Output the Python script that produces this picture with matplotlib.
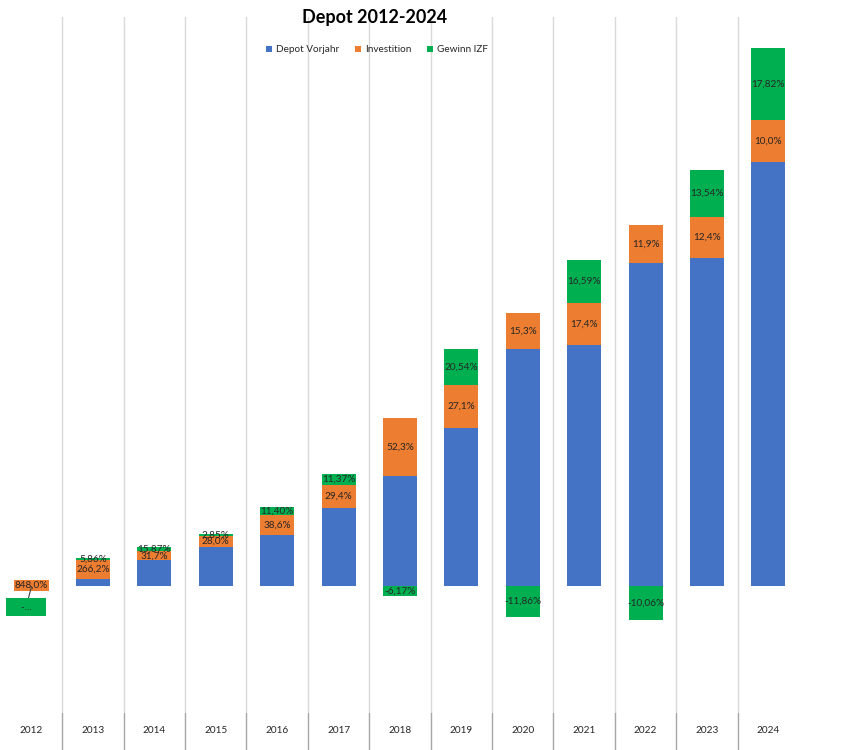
import numpy as np
import matplotlib.pyplot as plt

plt.rcParams["font.family"] = ["Lato", "DejaVu Sans"]

years = ["2012", "2013", "2014", "2015", "2016", "2017", "2018",
         "2019", "2020", "2021", "2022", "2023", "2024"]
depot_vorjahr = np.array([0, 1750, 6500, 9750, 12750, 19500, 27500,
                          39500, 59250, 60250, 80750, 82000, 106000])
investition = np.array([250, 4750, 2125, 2750, 4875, 5750, 14500,
                        10750, 9000, 10500, 9625, 10250, 10500])
gewinn = np.array([-125, 375, 1125, 375, 2000, 2750, -2500,
                   9000, -7750, 10750, -8500, 11750, 18000])

inv_labels = ["848,0%", "266,2%", "31,7%", "28,0%", "38,6%", "29,4%", "52,3%",
              "27,1%", "15,3%", "17,4%", "11,9%", "12,4%", "10,0%"]
gew_labels = ["-...", "5,86%", "15,87%", "2,85%", "11,40%", "11,37%", "-6,17%",
              "20,54%", "-11,86%", "16,59%", "-10,06%", "13,54%", "17,82%"]

BLUE, ORANGE, GREEN = "#4472C4", "#ED7D31", "#00B050"
TXT = "#262626"

x = np.arange(len(years))
width = 0.555

fig = plt.figure(figsize=(8.42, 7.5), dpi=100)
ax = fig.add_axes([0.001, 0.0507, 0.948, 0.9266])

# excel stacks negatives separately from zero
gew_bottom = np.where(gewinn >= 0, depot_vorjahr + investition, 0)

ax.bar(x, depot_vorjahr, width, color=BLUE, label="Depot Vorjahr", zorder=2)
ax.bar(x, investition, width, bottom=depot_vorjahr, color=ORANGE, label="Investition", zorder=2)
ax.bar(x, gewinn, width, bottom=gew_bottom, color=GREEN, label="Gewinn IZF", zorder=2)

for i in range(1, len(years)):
    ax.text(x[i], depot_vorjahr[i] + investition[i] / 2, inv_labels[i],
            ha="center", va="center", fontsize=7.2, color=TXT, zorder=3)
    ax.text(x[i], gew_bottom[i] + gewinn[i] / 2, gew_labels[i],
            ha="center", va="center", fontsize=7.2, color=TXT, zorder=4)

# 2012: labels moved out with fills and a leader line
ax.text(x[0], depot_vorjahr[0] + investition[0] / 2, inv_labels[0],
        ha="center", va="center", fontsize=7.2, color=TXT, zorder=4,
        bbox=dict(facecolor=ORANGE, edgecolor="none", pad=0.5))
ax.annotate("    " + gew_labels[0] + "    ",
            xy=(x[0], gewinn[0]), xytext=(-4, -15), textcoords="offset points",
            ha="center", va="center", fontsize=7.2, color=TXT, zorder=4,
            bbox=dict(facecolor=GREEN, edgecolor="none", pad=3.2),
            arrowprops=dict(arrowstyle="-", color="#404040", lw=0.8,
                            shrinkA=0, shrinkB=0))

ax.set_xlim(-0.5, len(years) - 0.5)
ax.set_ylim(-31500, 142250)

# vertical gridlines between categories
bounds = np.arange(len(years) + 1) - 0.5
for b in bounds[1:-1]:
    ax.axvline(b, color="#d9d9d9", lw=1, zorder=1)

ax.set_xticks(bounds[1:-1])
ax.set_xticklabels([])
ax.tick_params(axis="x", which="major", length=27, color="#a6a6a6", width=1, direction="out")
ax.set_xticks(x, minor=True)
ax.set_xticklabels(years, minor=True, fontsize=7.2, color=TXT)
ax.tick_params(axis="x", which="minor", length=0, pad=10)
ax.set_yticks([])
for s in ax.spines.values():
    s.set_visible(False)

fig.text(375 / 842, 1 - 18 / 750, "Depot 2012-2024", ha="center", va="center",
         fontsize=13, fontweight="bold", color="black")
fig.legend(loc="center", bbox_to_anchor=(377 / 842, 1 - 50 / 750), ncol=3,
           frameon=False, fontsize=7.2, handlelength=0.6, handleheight=0.6,
           handletextpad=0.4, columnspacing=1.6, labelcolor=TXT)

fig.savefig("out.png", dpi=100)
